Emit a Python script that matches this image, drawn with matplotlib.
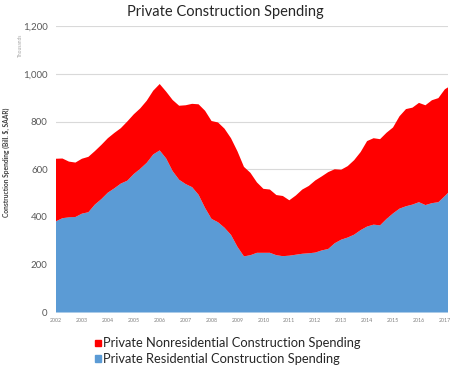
import matplotlib
matplotlib.use("Agg")
import matplotlib.pyplot as plt
from matplotlib.patches import Patch
import numpy as np

plt.rcParams['font.family'] = ['Lato', 'DejaVu Sans']

# quarterly dates (fractional years), last point early 2017
dates = [2002 + q * 0.25 for q in range(61)] + [2017.12]

residential = [382, 395, 399, 400, 414, 420, 452, 475,
               502, 520, 540, 552, 580, 602, 627, 662,
               679, 645, 592, 556, 538, 525, 493, 438,
               392, 378, 355, 325, 275, 235, 240, 250,
               250, 250, 240, 236, 238, 242, 246, 248,
               251, 260, 266, 290, 305, 314, 326, 345,
               360, 368, 365, 392, 415, 435, 445, 452,
               462, 450, 458, 462, 488, 501]

total = [644, 645, 632, 628, 644, 652, 676, 702,
         730, 752, 772, 800, 830, 855, 887, 929,
         957, 925, 890, 866, 868, 874, 872, 845,
         802, 796, 770, 730, 675, 610, 585, 545,
         518, 515, 492, 488, 470, 490, 515, 530,
         553, 570, 588, 600, 598, 613, 638, 672,
         718, 730, 726, 753, 775, 822, 852, 858,
         878, 868, 889, 898, 935, 943]

nonresidential = [t - r for t, r in zip(total, residential)]

year_ticks = list(range(2002, 2018))
y_ticks = [0, 200, 400, 600, 800, 1000, 1200]
y_tick_labels = ["0", "200", "400", "600", "800", "1,000", "1,200"]

title = "Private Construction Spending"
ylabel = "Construction Spending (Bill. $, SAAR)"
labels = ["Private Nonresidential Construction Spending",
          "Private Residential Construction Spending"]
RED = "#FF0000"
BLUE = "#5B9BD5"

fig = plt.figure(figsize=(4.5, 3.65), dpi=100)
ax = fig.add_axes([56 / 450, 1 - 312.5 / 365, (448 - 56) / 450, (312.5 - 26) / 365])

ax.stackplot(dates, residential, nonresidential, colors=[BLUE, RED], linewidth=0)

ax.set_xlim(2002, 2017.12)
ax.set_ylim(0, 1200)
ax.set_yticks(y_ticks)
ax.set_yticklabels(y_tick_labels, fontsize=7, color="#595959")
ax.set_xticks(year_ticks)
ax.set_xticklabels([str(y) for y in year_ticks], fontsize=3.8, color="#808080")
ax.tick_params(axis='both', length=0)
ax.tick_params(axis='y', pad=6)
ax.tick_params(axis='x', pad=4)
for s in ax.spines.values():
    s.set_visible(False)
ax.grid(axis='y', color="#D9D9D9", linewidth=0.8)
ax.set_axisbelow(True)

fig.text(0.5, 1 - 12 / 365, title, ha='center', va='center', fontsize=10.5, color="#262626")
fig.text(6 / 450, 1 - 162 / 365, ylabel, rotation=90, ha='center', va='center',
         fontsize=4.8, fontweight='bold', color="#404040")
fig.text(20 / 450, 1 - 45 / 365, "Thousands", rotation=90, ha='center', va='center',
         fontsize=3.5, color="#A6A6A6")

handles = [Patch(color=RED), Patch(color=BLUE)]
fig.legend(handles, labels, loc='upper left', bbox_to_anchor=(89 / 450, 1 - 331 / 365),
           frameon=False, fontsize=9.3, handlelength=0.4, handleheight=0.4,
           handletextpad=0.2, labelspacing=0.3, borderpad=0, labelcolor="#262626")

fig.savefig("out.png", dpi=100)
